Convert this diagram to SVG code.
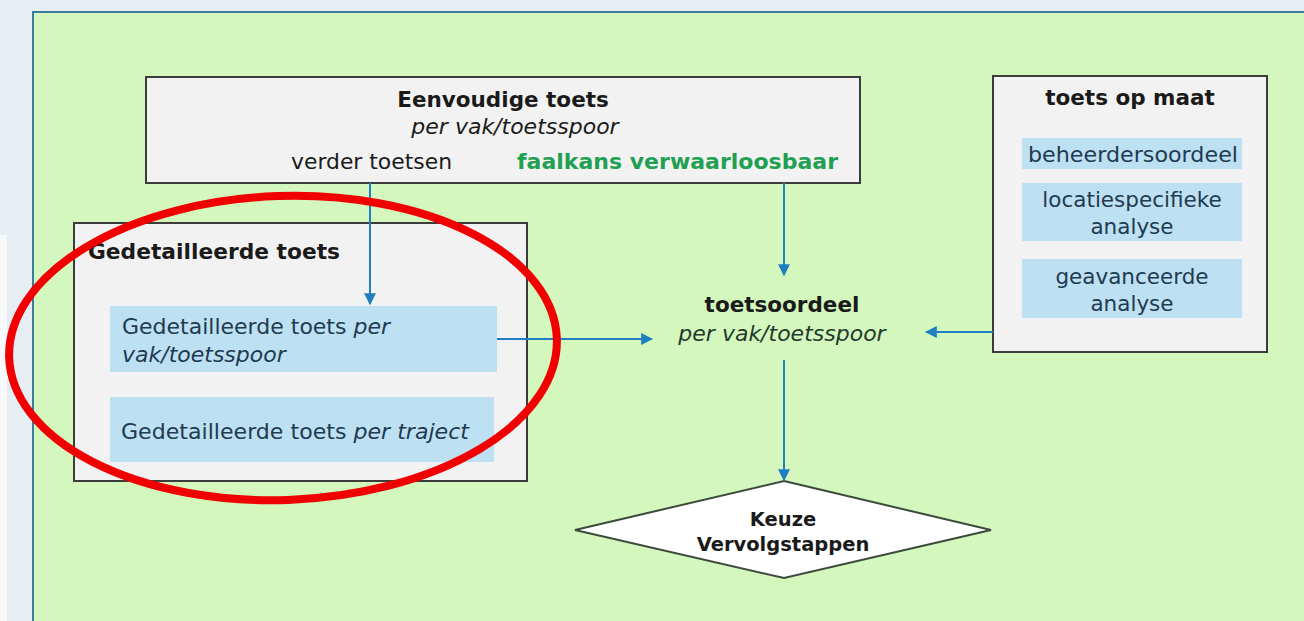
<svg xmlns="http://www.w3.org/2000/svg" width="1304" height="621" viewBox="0 0 1304 621">
<style>
.box{fill:#f2f2f2;stroke:#3c3c3c;stroke-width:2}
.inner{fill:#bde0f3}
.t{font-family:"DejaVu Sans",Verdana,sans-serif;fill:#1a1a1a}
.b{font-weight:bold}
.i{font-style:italic}
.it{font-family:"DejaVu Sans",Verdana,sans-serif;fill:#213a4f}
.conn{stroke:#1f7fc0;stroke-width:2;fill:none;marker-end:url(#ah)}
</style>
<defs>
<marker id="ah" viewBox="0 0 10 10" refX="9" refY="5" markerWidth="6" markerHeight="6" orient="auto" markerUnits="strokeWidth">
<path d="M0,0 L10,5 L0,10 z" fill="#1f7fc0"/>
</marker>
</defs>
<rect x="0" y="0" width="1304" height="621" fill="#e7eef3"/>
<rect x="0" y="235" width="7" height="386" fill="#f7f9fb"/>
<rect x="33" y="12" width="1280" height="620" fill="#d3f7bd" stroke="#3a7d9c" stroke-width="2"/>

<g id="eenvoudige">
<rect class="box" x="146" y="77" width="714" height="106"/>
<text class="t b" x="503" y="107" font-size="21.5" text-anchor="middle">Eenvoudige toets</text>
<text class="t i" x="515" y="134" font-size="22" text-anchor="middle">per vak/toetsspoor</text>
<text class="t" x="291" y="169" font-size="21" textLength="161" lengthAdjust="spacingAndGlyphs">verder toetsen</text>
<text class="t b" x="517" y="169" font-size="21" style="fill:#1fa052" textLength="321" lengthAdjust="spacingAndGlyphs">faalkans verwaarloosbaar</text>
</g>

<g id="gedetailleerde">
<rect class="box" x="74" y="223" width="453" height="258"/>
<text class="t b" x="88" y="259" font-size="21" textLength="252" lengthAdjust="spacingAndGlyphs">Gedetailleerde toets</text>
<rect class="inner" x="110" y="306" width="387" height="66"/>
<text class="it" x="122" y="334" font-size="22" textLength="268" lengthAdjust="spacingAndGlyphs">Gedetailleerde toets <tspan font-style="italic">per</tspan></text>
<text class="it i" x="122" y="362" font-size="22">vak/toetsspoor</text>
<rect class="inner" x="110" y="397" width="384" height="65"/>
<text class="it" x="121" y="439" font-size="22" textLength="348" lengthAdjust="spacingAndGlyphs">Gedetailleerde toets <tspan font-style="italic">per traject</tspan></text>
</g>

<g id="toetsopmaat">
<rect class="box" x="993" y="76" width="274" height="276"/>
<text class="t b" x="1130" y="105" font-size="21.5" text-anchor="middle">toets op maat</text>
<rect class="inner" x="1022" y="138" width="220" height="31"/>
<text class="it" x="1133" y="162" font-size="21" text-anchor="middle" textLength="210" lengthAdjust="spacingAndGlyphs">beheerdersoordeel</text>
<rect class="inner" x="1022" y="183" width="220" height="58"/>
<text class="it" x="1132" y="207" font-size="21.5" text-anchor="middle">locatiespecifieke</text>
<text class="it" x="1132" y="234" font-size="21.5" text-anchor="middle">analyse</text>
<rect class="inner" x="1022" y="259" width="220" height="59"/>
<text class="it" x="1132" y="284" font-size="21.5" text-anchor="middle">geavanceerde</text>
<text class="it" x="1132" y="311" font-size="21.5" text-anchor="middle">analyse</text>
</g>

<g id="toetsoordeel">
<text class="t b" x="782" y="312" font-size="21.5" text-anchor="middle">toetsoordeel</text>
<text class="t i" x="782" y="341" font-size="22" text-anchor="middle" style="fill:#243a2c">per vak/toetsspoor</text>
</g>

<g id="keuze">
<polygon points="784,481 991,530 784,578 575,530" fill="#ffffff" stroke="#3c4a3c" stroke-width="2"/>
<text class="t b" x="783" y="526" font-size="19.5" text-anchor="middle">Keuze</text>
<text class="t b" x="783" y="551" font-size="19.5" text-anchor="middle">Vervolgstappen</text>
</g>

<g id="connectors">
<line class="conn" x1="370" y1="183" x2="370" y2="304"/>
<line class="conn" x1="784" y1="183" x2="784" y2="275"/>
<line class="conn" x1="497" y1="339" x2="652" y2="339"/>
<line class="conn" x1="993" y1="332" x2="926" y2="332"/>
<line class="conn" x1="784" y1="360" x2="784" y2="480"/>
</g>

<g id="highlight">
<ellipse cx="283" cy="348" rx="274" ry="152" fill="none" stroke="#f00000" stroke-width="8" transform="rotate(-2 283 348)"/>
</g>
</svg>
